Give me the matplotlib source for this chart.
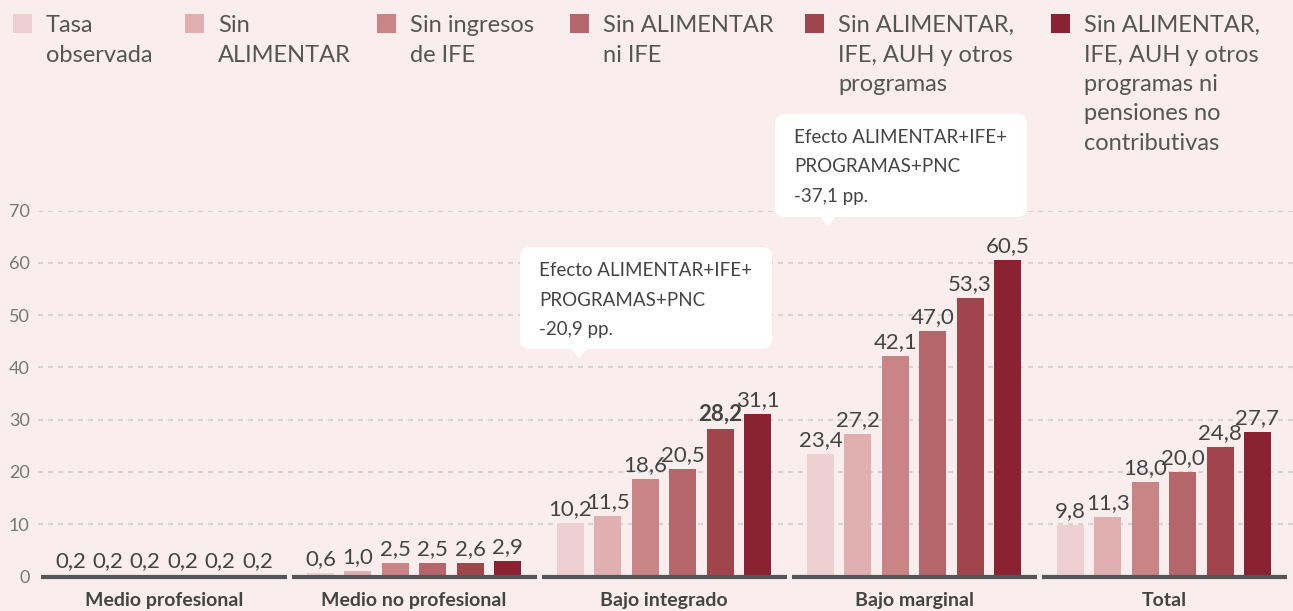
import matplotlib
matplotlib.use("Agg")
import matplotlib.pyplot as plt
from matplotlib.patches import FancyBboxPatch, Polygon, Rectangle

plt.rcParams['font.family'] = ['Lato', 'DejaVu Sans']

categories = ['Medio profesional', 'Medio no profesional', 'Bajo integrado',
              'Bajo marginal', 'Total']
series_names = ['Tasa\nobservada', 'Sin\nALIMENTAR', 'Sin ingresos\nde IFE',
                'Sin ALIMENTAR\nni IFE',
                'Sin ALIMENTAR,\nIFE, AUH y otros\nprogramas',
                'Sin ALIMENTAR,\nIFE, AUH y otros\nprogramas ni\npensiones no\ncontributivas']
tasa = [0.2, 0.6, 10.2, 23.4, 9.8]
sin_alimentar = [0.2, 1.0, 11.5, 27.2, 11.3]
sin_ife = [0.2, 2.5, 18.6, 42.1, 18.0]
sin_alim_ife = [0.2, 2.5, 20.5, 47.0, 20.0]
sin_programas = [0.2, 2.6, 28.2, 53.3, 24.8]
sin_pnc = [0.2, 2.9, 31.1, 60.5, 27.7]
series = [tasa, sin_alimentar, sin_ife, sin_alim_ife, sin_programas, sin_pnc]
yticks = [0, 10, 20, 30, 40, 50, 60, 70]
tooltips = ['Efecto ALIMENTAR+IFE+\nPROGRAMAS+PNC\n-20,9 pp.',
            'Efecto ALIMENTAR+IFE+\nPROGRAMAS+PNC\n-37,1 pp.']

colors = ['#efd0d2', '#e0b0b1', '#c98486', '#b5666a', '#a0454c', '#8b2232']
bg = '#f9eded'
txt = '#444444'

W, H = 1293, 611
fig = plt.figure(figsize=(W / 100, H / 100), dpi=100, facecolor=bg)
ax = fig.add_axes([38 / W, 34.5 / H, (W - 38) / W, 366 / H])
ax.set_facecolor(bg)

step = 0.1496
width = 0.108
for j, vals in enumerate(series):
    xs = [i + (j - 2.5) * step for i in range(len(categories))]
    ax.bar(xs, vals, width=width, color=colors[j], zorder=3)
    for i, (x, v) in enumerate(zip(xs, vals)):
        bold = (j == 4 and categories[i] == 'Bajo integrado')
        ax.annotate(f'{v:.1f}'.replace('.', ','), (x, v), xytext=(0, 5.8),
                    textcoords='offset points', ha='center', va='baseline',
                    fontsize=16, color=txt,
                    fontweight='bold' if bold else 'normal', zorder=4)

for v in yticks[1:]:
    ax.axhline(v, color='#d4d4d4', lw=1.5, ls=(0, (2.4, 2.4)), zorder=1)

for i, cat in enumerate(categories):
    ax.hlines(0, i - 0.49, i + 0.49, color='#555555', lw=3, zorder=5,
              clip_on=False)
    ax.annotate(cat, (i, 0), xytext=(0, -17.6), textcoords='offset points',
                ha='center', va='center', fontsize=14, fontweight='bold',
                color=txt, annotation_clip=False)

ax.set_xlim(-0.504, 4.516)
ax.set_ylim(0, 70)
ax.set_yticks(yticks)
ax.set_xticks([])
ax.tick_params(axis='y', length=0, pad=6, labelsize=13, labelcolor='#777777')
for s in ax.spines.values():
    s.set_visible(False)

# pixel helpers (y measured from top)
tr = fig.dpi_scale_trans
def P(x, y):
    return (x / 100, (H - y) / 100)

# legend
sq_x = [13, 185, 377, 570, 805, 1051]
for j, name in enumerate(series_names):
    fig.add_artist(Rectangle(P(sq_x[j], 33), 0.19, 0.19, transform=tr,
                             color=colors[j], lw=0))
    for k, line in enumerate(name.split('\n')):
        fig.text(*P(sq_x[j] + 33, 32 + 29.5 * k), line, transform=tr,
                 fontsize=17, color='#555555',
                 va='baseline', ha='left')

# tooltips
boxes = [(520, 247, 772, 349, 579, 359), (775, 114, 1027, 217, 828, 227)]
for (x0, y0, x1, y1, tx, ty), label in zip(boxes, tooltips):
    fig.add_artist(FancyBboxPatch(P(x0, y1), (x1 - x0) / 100, (y1 - y0) / 100,
                                  boxstyle='round,pad=0,rounding_size=0.1',
                                  transform=tr, fc='white', ec='none'))
    fig.add_artist(Polygon([P(tx - 8, y1 - 1), P(tx + 8, y1 - 1), P(tx, ty)],
                           closed=True, transform=tr, fc='white', ec='none'))
    for k, line in enumerate(label.split('\n')):
        fig.text(*P(x0 + 19, y0 + 29 + 29.5 * k), line, transform=tr,
                 fontsize=13.5, color=txt, va='baseline', ha='left')

fig.savefig('out.png', dpi=100, facecolor=bg)
